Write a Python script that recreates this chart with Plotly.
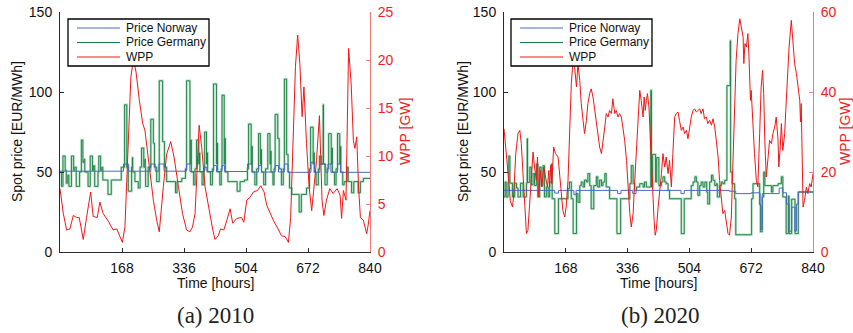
import plotly.graph_objects as go

# ---------------- data (hours, EUR/MWh, GW) ----------------
HOUR_TICKS = [168, 336, 504, 672, 840]
PRICE_TICKS = [0, 50, 100, 150]
WPP10_TICKS = [0, 5, 10, 15, 20, 25]
WPP20_TICKS = [0, 20, 40, 60]

# 2010 -- Norway spot price (step changes)
NOR10_H = [0, 172, 186, 246, 258, 268, 282, 343, 352, 392, 398, 416, 424, 439, 446, 508, 520, 538, 546,
           583, 592, 608, 618, 680, 690, 704, 720, 726, 734, 752, 760, 840]
NOR10_P = [50.5, 55, 50.5, 55, 50.5, 55, 50.5, 55, 50.3, 53, 50.3, 54, 50.3, 54, 50.3, 55, 50, 54, 50,
           54, 50, 55, 49.8, 56, 49.8, 55, 49.8, 55, 49.8, 55, 49.8, 49.8]

# 2010 -- Germany spot price (step changes)
GER10_H = [0, 4, 8, 14, 17, 21, 24, 31, 37, 40, 44, 53, 58, 62, 65, 67, 76, 82, 88, 91, 94, 103, 105, 110,
           113, 116, 130, 139, 166,
           175, 181, 185, 194, 196, 197, 203, 212, 217, 221, 227, 230, 231, 232, 239, 246, 253, 256, 262,
           269, 278, 283, 289, 313, 317, 330,
           340, 343, 352, 354, 356, 362, 366, 370, 376, 378, 379, 385, 390, 392, 397, 399, 400, 408, 413,
           416, 424, 426, 427, 433, 437, 439, 445, 447, 448, 455, 480, 488, 500,
           508, 511, 518, 520, 521, 528, 533, 538, 543, 545, 546, 552, 557, 563, 569, 571, 572, 577, 580,
           583, 590, 594, 600, 605, 608, 614, 618, 622, 628, 648, 654, 668,
           676, 679, 686, 688, 689, 694, 700, 703, 708, 713, 714, 718, 724, 728, 735, 737, 738, 744, 748,
           752, 758, 760, 761, 766, 770, 778, 781, 790, 796, 808, 814, 822, 840]
GER10_P = [50, 41, 60, 51, 43, 48, 41, 60, 51, 53, 41, 50, 70, 56, 58, 50, 41, 60, 51, 54, 41, 50, 60, 51,
           53, 45, 36, 45, 53,
           92, 53, 38, 53, 59, 50, 44, 40, 53, 65, 53, 58, 53, 41, 53, 83, 68, 53, 44,
           107, 69, 53, 44, 37, 44, 46,
           52, 107, 55, 70, 50, 42, 52, 70, 55, 62, 50, 42, 52, 75, 55, 62, 50, 42, 52,
           105, 55, 68, 50, 42, 52, 98, 55, 71, 50, 44, 38, 44, 45,
           52, 80, 55, 66, 50, 42, 52, 74, 55, 64, 50, 42, 52, 74, 55, 63, 50, 42, 52,
           86, 71, 52, 42, 52, 108, 61, 50, 40, 36, 25, 36, 40,
           52, 78, 55, 62, 50, 42, 52, 60, 55, 92, 55, 42, 52, 74, 55, 65, 50, 42, 52,
           74, 55, 66, 50, 42, 44, 53, 44, 37, 44, 37, 44, 46, 46]

# 2010 -- wind power production
WPP10_H = [0, 9, 18, 27, 36, 45, 52, 59, 63, 72, 83, 90, 101, 108, 117, 131, 144, 154, 163, 169, 176, 185,
           192, 199, 206, 215, 224, 230, 239, 253, 262, 269, 280, 289, 300, 309, 321, 332, 343, 352, 359,
           366, 377, 384, 393, 402, 414, 420, 429, 435, 444, 452, 461, 468, 479, 492, 498, 506, 515, 524,
           535, 544, 553, 560, 569, 578, 591, 600, 610, 619, 625, 632, 638, 644, 650, 656, 661, 668, 675,
           682, 688, 695, 703, 710, 715, 722, 731, 740, 751, 759, 763, 768, 775, 782, 789, 795, 799, 804,
           809, 814, 822, 831, 835, 840]
WPP10_W = [6.6, 4.0, 2.3, 2.4, 3.8, 3.6, 3.6, 1.9, 1.3, 3.6, 6.25, 3.7, 3.6, 5.2, 4.0, 3.2, 2.3, 2.4, 1.6,
           1.0, 2.6, 10.6, 18.2, 20.1, 18.75, 15.8, 13.4, 12.7, 9.9, 5.4, 3.3, 2.1, 6.8, 10.2, 11.5, 9.9,
           6.8, 4.0, 2.3, 2.1, 2.6, 4.0, 13.2, 10.9, 6.8, 4.7, 2.3, 1.3, 1.7, 2.4, 2.3, 3.3, 4.5, 3.0, 3.5,
           3.6, 3.1, 5.4, 5.7, 6.25, 6.4, 6.9, 6.25, 4.9, 4.0, 3.3, 2.4, 1.7, 1.6, 1.0, 3.6, 12.3, 19.3,
           22.6, 19.6, 14.1, 17.2, 11.3, 6.8, 4.3, 6.8, 9.5, 14.2, 5.4, 3.8, 5.4, 6.6, 6.1, 6.6, 5.9, 3.5,
           6.4, 5.4, 21.2, 17.5, 11.6, 10.8, 12.0, 6.8, 3.6, 3.3, 1.9, 2.8, 4.3]

# 2020 -- Norway spot price (step changes)
NOR20_H = [0, 138, 148, 190, 196, 309, 318, 350, 359, 481, 490, 612, 630, 672, 696, 699, 702, 748, 758,
           768, 775, 782, 791, 795, 800, 840]
NOR20_P = [38.5, 36.8, 38.5, 35.8, 38.5, 36.5, 38.5, 36.5, 38.5, 36.5, 38.5, 38, 36.5, 37, 29, 14, 36.5,
           40, 37, 30, 13, 28, 13, 30, 37.5, 37.5]

# 2020 -- Germany spot price (step changes)
GER20_H = [0, 3, 6, 11, 13, 16, 23, 29, 34, 38, 45, 52, 61, 63, 64, 70, 74, 79, 83, 88, 92, 97, 101, 106,
           110, 115, 120, 124, 129, 131, 138, 148, 174, 178, 183, 188, 197, 201, 206, 210, 215, 219, 224,
           228, 233, 237, 244, 251, 255, 260, 265, 269, 274, 278, 287, 307, 317, 342, 346, 351, 355, 360,
           369, 378, 382, 387, 399, 401, 404, 412, 415, 421, 428, 432, 437, 441, 446, 450, 482, 490, 509,
           514, 519, 523, 527, 532, 536, 541, 546, 551, 554, 559, 564, 568, 573, 577, 580, 586, 591, 595,
           600, 606, 615, 616, 620, 627, 630, 673, 677, 686, 695, 697, 702, 706, 709, 727, 731, 745, 754,
           758, 767, 773, 775, 782, 791, 800, 840]
GER20_P = [34.4, 43.75, 34.4, 43.75, 60, 43, 34.4, 43, 40, 34.4, 43, 34.4, 43, 70.8, 43.5, 53, 42, 49,
           41.5, 55, 34.4, 53, 41.5, 54, 34.4, 40.6, 34.4, 43.75, 55, 33.3, 11.5, 33.3, 39.6, 43.75, 33.3,
           11.5, 36.5, 31, 41.5, 43.75, 40.6, 45, 43.75, 49, 41.5, 27, 41.5, 47, 40.6, 45, 41.5, 43.75, 49,
           40.6, 33.3, 11.5, 33.3, 42.7, 54, 42.7, 38.5, 40.6, 42.7, 40.6, 43.75, 40.6, 101, 40.6, 61, 43.75,
           59, 41.5, 43.75, 47, 43.75, 42.7, 38.5, 33.3, 11.5, 33.3, 41.5, 43.75, 47, 43.75, 35.4, 41.5,
           43.75, 40.6, 43.75, 37.5, 30, 43.75, 48, 44.8, 41.5, 42.7, 34.4, 41.5, 43.75, 42.7, 44.8, 104,
           132, 50, 42.7, 33.3, 10.8, 33.3, 42.7, 42.7, 30, 12.7, 34.4, 50, 41.5, 37.5, 41.5, 42.7, 47,
           34.4, 11.5, 35, 11.5, 33, 11.5, 37.5, 37.5]

# 2020 -- wind power production
WPP20_H = [0, 6, 11, 14, 17, 23, 26, 32, 38, 43, 47, 52, 56, 61, 65, 70, 74, 79, 83, 88, 91, 94, 99, 103,
           108, 113, 118, 122, 124, 127, 130, 135, 140, 147, 151, 156, 160, 165, 169, 174, 178, 183, 188,
           192, 197, 201, 206, 210, 215, 219, 224, 228, 233, 237, 242, 246, 251, 255, 260, 265, 269, 274,
           278, 283, 287, 292, 296, 301, 305, 310, 314, 319, 323, 328, 333, 337, 342, 346, 351, 355, 360,
           364, 369, 373, 378, 381, 384, 387, 390, 394, 399, 403, 408, 411, 414, 419, 423, 428, 432, 437,
           441, 446, 450, 455, 459, 464, 468, 473, 477, 482, 487, 491, 496, 500, 505, 509, 514, 518, 523,
           527, 532, 536, 541, 545, 550, 554, 559, 564, 568, 573, 577, 582, 586, 591, 595, 600, 604, 609,
           613, 618, 622, 627, 631, 636, 641, 645, 650, 652, 655, 659, 663, 666, 670, 672, 677, 681, 686,
           690, 695, 699, 703, 706, 709, 713, 718, 722, 727, 731, 736, 740, 745, 747, 751, 754, 758, 763,
           766, 769, 775, 781, 786, 790, 795, 799, 804, 806, 808, 813, 817, 822, 826, 831, 835, 840]
WPP20_W = [30.8, 25.4, 19.6, 16.7, 12.9, 11.25, 13.75, 24.6, 29.6, 30.4, 27.1, 18.75, 9.6, 4.6, 5.4, 12.9,
           19.6, 25, 21.25, 17.9, 23.75, 13.75, 20.4, 16.25, 21.25, 18.75, 16.25, 20.4, 16.25, 21.7, 17.1,
           26.25, 24.6, 23.75, 19.6, 14.6, 10.4, 8.75, 11.25, 17.9, 29.6, 42.1, 48.3, 46.25, 41.25, 47.1,
           42.9, 37.1, 32.9, 29.6, 32.9, 37.1, 39.6, 40.8, 38.75, 36.25, 32.9, 29.6, 26.25, 24.6, 27.1,
           31.25, 34.6, 33.75, 35.4, 34.6, 38.3, 34.6, 35.4, 33.75, 34.6, 33.75, 31.25, 27.9, 22.9, 16.25,
           9.6, 6.25, 9.6, 17.1, 25.4, 32.9, 40.4, 37.9, 33.75, 38.75, 35.4, 37.9, 39.6, 36.25, 25.4, 16.25,
           7.9, 4.2, 5.4, 11.25, 14.6, 19.6, 24.6, 21.25, 23.75, 19.6, 22.9, 16.25, 24.6, 33.75, 34.6, 35,
           32.9, 30.4, 31.25, 29.6, 30.4, 28.3, 31.25, 33.75, 35.4, 35.8, 35, 35.4, 35.8, 34.6, 35.8, 33.3,
           33.75, 32.1, 32.9, 31.7, 33.3, 31.25, 27.9, 23.75, 17.9, 12.9, 9.6, 10.4, 7.9, 4.6, 4.2, 8.75,
           21.25, 37.9, 47.9, 54.6, 58.3, 56.25, 53.75, 47.1, 52.1, 51.25, 54.6, 48.75, 37.9, 40.4, 29.6,
           24.6, 17.9, 16.25, 29.6, 41.25, 45.4, 39.6, 27.9, 18.75, 23.75, 27.9, 27.1, 29.6, 31.25, 33.75,
           27.9, 21.25, 26.25, 32.1, 25.4, 29.6, 35.4, 42.1, 51.25, 57.9, 52.9, 47.1, 44.6, 42.1, 37.9,
           32.5, 37.1, 11.25, 12.9, 16.25, 14.6, 17.1, 16.25, 19.6]

LEGEND_NAMES = ["Price Norway", "Price Germany", "WPP"]
PANEL_LABELS = ["(a) 2010", "(b) 2020"]

# ---------------- styles ----------------
FW, FH = 853, 333
GREEN = "rgb(22,126,62)"
GREEN_LIGHT = "rgba(130,198,155,0.55)"
BLUE = "rgb(72,104,200)"
RED = "rgb(242,22,22)"
RED_AXIS = "rgb(242,120,120)"
AX = "#2b2b2b"
SANS = "Liberation Sans, Arial, sans-serif"
SERIF = "Liberation Serif, Times New Roman, serif"


def fx(p):
    return p / FW


def fy(p):
    return 1 - p / FH


DOM_Y = [fy(252), fy(12)]
DOM_X = [[fx(60), fx(370)], [fx(504), fx(813)]]

fig = go.Figure()

panels = [
    dict(xa="x", ya="y", ya2="y2", nh=NOR10_H, np_=NOR10_P, gh=GER10_H, gp=GER10_P, wh=WPP10_H, ww=WPP10_W),
    dict(xa="x2", ya="y3", ya2="y4", nh=NOR20_H, np_=NOR20_P, gh=GER20_H, gp=GER20_P, wh=WPP20_H, ww=WPP20_W),
]

for p in panels:
    fig.add_trace(go.Scatter(x=p["gh"], y=p["gp"], xaxis=p["xa"], yaxis=p["ya"], mode="lines",
                             line=dict(color=GREEN_LIGHT, width=2.4, shape="hv"), showlegend=False,
                             hoverinfo="skip"))
    fig.add_trace(go.Scatter(x=p["gh"], y=p["gp"], xaxis=p["xa"], yaxis=p["ya"], mode="lines",
                             line=dict(color=GREEN, width=0.9, shape="hv"), name=LEGEND_NAMES[1],
                             showlegend=False))
    fig.add_trace(go.Scatter(x=p["nh"], y=p["np_"], xaxis=p["xa"], yaxis=p["ya"], mode="lines",
                             line=dict(color=BLUE, width=1, shape="hv"), name=LEGEND_NAMES[0],
                             showlegend=False))
    fig.add_trace(go.Scatter(x=p["wh"], y=p["ww"], xaxis=p["xa"], yaxis=p["ya2"], mode="lines",
                             line=dict(color=RED, width=1), name=LEGEND_NAMES[2], showlegend=False))

xcommon = dict(range=[0, 840], tickvals=HOUR_TICKS, ticks="inside", ticklen=4, tickcolor=AX,
               showline=True, linecolor=AX, linewidth=1, showgrid=False, zeroline=False,
               tickfont=dict(family=SANS, size=14, color="#111"), ticklabelstandoff=3)
ycommon = dict(range=[0, 150], tickvals=PRICE_TICKS, ticks="inside", ticklen=4, tickcolor=AX,
               showline=True, linecolor=AX, linewidth=1, showgrid=False, zeroline=False,
               tickfont=dict(family=SANS, size=14, color="#111"), ticklabelstandoff=4, domain=DOM_Y)
yright = dict(ticks="inside", ticklen=4, tickcolor=RED_AXIS, showline=True, linecolor=RED_AXIS,
              linewidth=1, showgrid=False, zeroline=False, side="right",
              tickfont=dict(family=SANS, size=14, color="rgb(238,30,30)"), ticklabelstandoff=4)

fig.update_layout(
    width=FW, height=FH, margin=dict(l=0, r=0, t=0, b=0, autoexpand=False),
    paper_bgcolor="white", plot_bgcolor="white", showlegend=False,
    xaxis=dict(domain=DOM_X[0], anchor="y", **xcommon),
    yaxis=dict(anchor="x", **ycommon),
    yaxis2=dict(overlaying="y", anchor="x", range=[0, 25], tickvals=WPP10_TICKS, **yright),
    xaxis2=dict(domain=DOM_X[1], anchor="y3", **xcommon),
    yaxis3=dict(anchor="x2", **ycommon),
    yaxis4=dict(overlaying="y3", anchor="x2", range=[0, 60], tickvals=WPP20_TICKS, **yright),
)

shapes = []
annotations = []
legend_colors = [BLUE, GREEN, RED]


def txt(x, y, text, size=14, color="#111", family=SANS, angle=0, xanchor="center"):
    return dict(x=x, y=y, xref="paper", yref="paper", text=text, showarrow=False, textangle=angle,
                xanchor=xanchor, yanchor="middle", font=dict(family=family, size=size, color=color))


for i, off in enumerate([0, 443]):
    # legend box
    shapes.append(dict(type="rect", xref="paper", yref="paper", x0=fx(68 + off), x1=fx(209 + off),
                       y0=fy(66), y1=fy(19), line=dict(color="black", width=1.3), fillcolor="white",
                       layer="above"))
    for k, (name, col) in enumerate(zip(LEGEND_NAMES, legend_colors)):
        yy = fy(28 + 14.5 * k)
        shapes.append(dict(type="line", xref="paper", yref="paper", x0=fx(77 + off), x1=fx(120 + off),
                           y0=yy, y1=yy, line=dict(color=col, width=1), layer="above"))
        annotations.append(txt(fx(124 + off), yy, name, size=12, xanchor="left"))
    # axis titles
    annotations.append(txt(fx(17 if i == 0 else 463), fy(132), "Spot price [EUR/MWh]", angle=-90))
    annotations.append(txt(fx(405 if i == 0 else 845), fy(132), "WPP [GW]", angle=-90,
                           color="rgb(238,30,30)"))
    annotations.append(txt(fx(215 if i == 0 else 658), fy(283), "Time [hours]"))
    annotations.append(txt(fx(216 if i == 0 else 660), fy(315), PANEL_LABELS[i], size=23,
                           color="#222", family=SERIF))

fig.update_layout(shapes=shapes, annotations=annotations)
fig.write_html("out.html")
